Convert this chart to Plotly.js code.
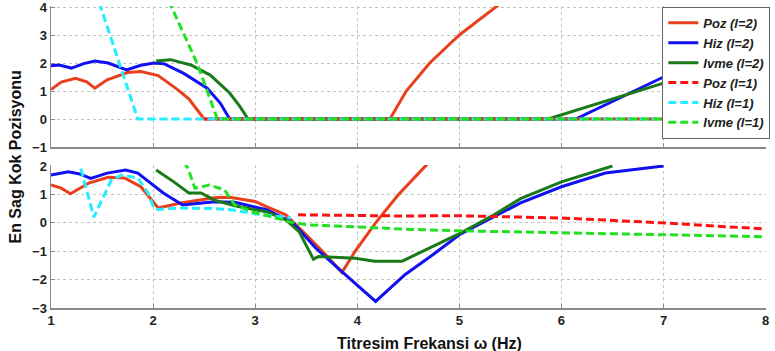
<!DOCTYPE html>
<html>
<head>
<meta charset="utf-8">
<script src="https://cdn.plot.ly/plotly-3.0.1.min.js"></script>
<style>html,body{margin:0;padding:0;background:#fff;}#chart{width:775px;height:351px;}</style>
</head>
<body>
<div id="chart"></div>
<script>
// ---------- Top panel (upper plot) ----------
const pozL2TopX = [1.0, 1.1, 1.24, 1.35, 1.43, 1.55, 1.75, 1.88, 2.05, 2.24, 2.35, 2.43, 2.5, 3.5, 4.32, 4.48, 4.71, 5.0, 5.36, 5.5];
const pozL2TopY = [1.05, 1.32, 1.45, 1.33, 1.1, 1.4, 1.66, 1.7, 1.55, 1.05, 0.72, 0.33, 0.0, 0.0, 0.0, 1.0, 2.0, 3.0, 4.0, 4.4];
const hizL2TopX = [1.0, 1.08, 1.2, 1.32, 1.43, 1.56, 1.74, 1.88, 2.01, 2.11, 2.3, 2.53, 2.66, 2.75, 4.5, 6.14, 7.0];
const hizL2TopY = [1.9, 1.93, 1.82, 1.98, 2.07, 2.0, 1.75, 1.92, 2.0, 1.97, 1.63, 1.1, 0.56, 0.0, 0.0, 0.0, 1.5];
const ivmeL2TopX = [2.03, 2.17, 2.37, 2.56, 2.75, 2.85, 2.93, 4.5, 5.87, 7.0];
const ivmeL2TopY = [2.07, 2.12, 1.93, 1.57, 0.93, 0.45, 0.0, 0.0, 0.0, 1.28];
const pozL1TopX = [2.5, 5.0, 8.0];
const pozL1TopY = [0.0, 0.0, 0.0];
const hizL1TopX = [1.4, 1.85, 5.0, 8.0];
const hizL1TopY = [4.96, 0.0, 0.0, 0.0];
const ivmeL1TopX = [2.1, 2.19, 2.43, 2.63, 5.0, 8.0];
const ivmeL1TopY = [4.6, 3.93, 2.0, 0.0, 0.0, 0.0];

// ---------- Bottom panel (lower plot) ----------
const pozL2BotX = [1.0, 1.1, 1.19, 1.37, 1.56, 1.72, 1.88, 1.96, 2.05, 2.27, 2.6, 2.75, 2.9, 3.0, 3.11, 3.3, 3.5, 3.69, 3.85, 3.98, 4.18, 4.4, 4.66, 4.8];
const pozL2BotY = [1.33, 1.22, 1.02, 1.4, 1.6, 1.58, 1.27, 0.9, 0.52, 0.7, 0.88, 0.9, 0.82, 0.75, 0.57, 0.28, -0.42, -1.12, -1.75, -1.0, 0.0, 0.98, 1.97, 2.5];
const hizL2BotX = [1.0, 1.17, 1.28, 1.39, 1.55, 1.73, 1.85, 1.98, 2.1, 2.29, 2.6, 2.8, 3.0, 3.11, 3.37, 3.59, 3.88, 4.18, 4.47, 4.75, 5.0, 5.34, 5.6, 6.0, 6.43, 7.0];
const hizL2BotY = [1.68, 1.8, 1.72, 1.56, 1.75, 1.86, 1.75, 1.4, 1.05, 0.63, 0.74, 0.72, 0.56, 0.46, 0.0, -0.88, -1.82, -2.77, -1.82, -1.1, -0.42, 0.2, 0.7, 1.27, 1.75, 2.0];
const ivmeL2BotX = [2.03, 2.2, 2.35, 2.47, 2.6, 2.8, 3.0, 3.11, 3.3, 3.43, 3.57, 3.62, 3.98, 4.17, 4.44, 4.7, 4.98, 5.34, 5.6, 6.0, 6.5];
const ivmeL2BotY = [1.86, 1.45, 1.05, 1.05, 0.8, 0.6, 0.46, 0.39, 0.1, -0.31, -1.28, -1.19, -1.25, -1.35, -1.35, -0.9, -0.42, 0.28, 0.85, 1.44, 2.0];
const pozL1BotX = [3.42, 4.43, 4.98, 6.0, 6.98, 8.0];
const pozL1BotY = [0.28, 0.24, 0.25, 0.17, 0.0, -0.22];
const hizL1BotX = [1.25, 1.29, 1.42, 1.59, 1.69, 1.85, 1.95, 2.01, 2.05, 2.27, 2.6, 2.76, 3.0, 3.2, 3.35];
const hizL1BotY = [2.3, 1.93, 0.2, 1.5, 1.68, 1.58, 1.05, 0.5, 0.47, 0.52, 0.5, 0.46, 0.32, 0.22, 0.17];
const ivmeL1BotX = [2.3, 2.34, 2.41, 2.55, 2.7, 2.8, 3.0, 3.11, 3.33, 3.5, 3.98, 4.43, 4.98, 6.0, 6.98, 8.0];
const ivmeL1BotY = [2.15, 1.93, 1.22, 1.33, 1.16, 0.63, 0.35, 0.26, 0.04, -0.07, -0.14, -0.22, -0.28, -0.35, -0.42, -0.49];

const seriesNames = ["Poz (l=2)", "Hiz (l=2)", "Ivme (l=2)", "Poz (l=1)", "Hiz (l=1)", "Ivme (l=1)"];
const seriesColors = ["#e8401c", "#1010f0", "#1a7a1a", "#ff1010", "#22eeff", "#22e022"];
const seriesDash = ["solid", "solid", "solid", "8px,4px", "8px,4px", "8px,4px"];

const topX = [pozL2TopX, hizL2TopX, ivmeL2TopX, pozL1TopX, hizL1TopX, ivmeL1TopX];
const topY = [pozL2TopY, hizL2TopY, ivmeL2TopY, pozL1TopY, hizL1TopY, ivmeL1TopY];
const botX = [pozL2BotX, hizL2BotX, ivmeL2BotX, pozL1BotX, hizL1BotX, ivmeL1BotX];
const botY = [pozL2BotY, hizL2BotY, ivmeL2BotY, pozL1BotY, hizL1BotY, ivmeL1BotY];

const traces = [];
for (let i = 0; i < 6; i++) {
  traces.push({
    x: topX[i], y: topY[i], type: "scatter", mode: "lines",
    name: seriesNames[i], xaxis: "x", yaxis: "y",
    line: {color: seriesColors[i], width: 3, dash: seriesDash[i]},
    showlegend: true, hoverinfo: "skip"
  });
}
for (let i = 0; i < 6; i++) {
  traces.push({
    x: botX[i], y: botY[i], type: "scatter", mode: "lines",
    name: seriesNames[i], xaxis: "x2", yaxis: "y2",
    line: {color: seriesColors[i], width: 3, dash: seriesDash[i]},
    showlegend: false, hoverinfo: "skip"
  });
}

const tickFont = {family: "Liberation Sans, Arial, sans-serif", size: 13, color: "#222", weight: "bold"};
const axCommon = {
  showgrid: true, gridcolor: "#c4c4c4", griddash: "dot", gridwidth: 1,
  zeroline: false, showline: true, linecolor: "#8a8a8a", linewidth: 1.5,
  ticks: "inside", ticklen: 4, tickcolor: "#8a8a8a", tickfont: tickFont, dtick: 1,
  ticklabeloverflow: "allow"
};

const layout = {
  width: 775, height: 351,
  margin: {l: 51, r: 5, t: 6, b: 43},
  paper_bgcolor: "#fff", plot_bgcolor: "#fff",
  showlegend: true,
  legend: {
    x: 1.006, xanchor: "right", y: 0.997, yanchor: "top",
    bgcolor: "#fff", bordercolor: "#666", borderwidth: 1,
    font: {family: "Liberation Sans, Arial, sans-serif", size: 13, color: "#222", weight: "bold", style: "italic"},
    tracegroupgap: 0, itemwidth: 30
  },
  xaxis: Object.assign({}, axCommon, {range: [1, 8.004], anchor: "y", showticklabels: false, tick0: 1}),
  yaxis: Object.assign({}, axCommon, {range: [-1, 4.036], domain: [0.533, 1], anchor: "x", tick0: 0}),
  xaxis2: Object.assign({}, axCommon, {range: [1, 8.004], anchor: "y2", tick0: 1}),
  yaxis2: Object.assign({}, axCommon, {range: [-3, 2.035], domain: [0, 0.4735], anchor: "x2", tick0: 0}),
  annotations: [
    {text: "En Sag Kok Pozisyonu", xref: "paper", yref: "paper", x: -0.051, y: 0.5,
     xanchor: "center", yanchor: "middle", textangle: -90, showarrow: false,
     font: {family: "Liberation Sans, Arial, sans-serif", size: 16, color: "#111", weight: "bold"}},
    {text: "Titresim Frekansi ω (Hz)", xref: "paper", yref: "paper", x: 0.53, y: -0.083,
     xanchor: "center", yanchor: "top", showarrow: false,
     font: {family: "Liberation Sans, Arial, sans-serif", size: 16, color: "#111", weight: "bold"}}
  ]
};

Plotly.newPlot("chart", traces, layout, {staticPlot: true, displayModeBar: false});
</script>
</body>
</html>
